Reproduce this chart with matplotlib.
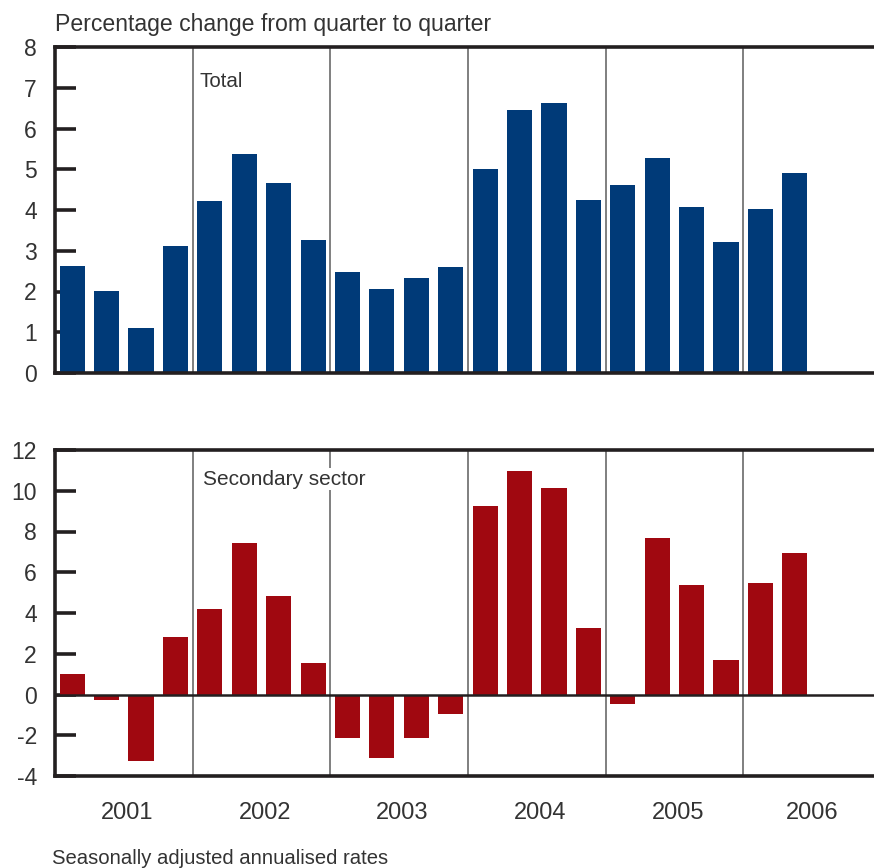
import numpy as np
import matplotlib
matplotlib.use("Agg")
import matplotlib.pyplot as plt

plt.rcParams["font.family"] = ["Liberation Sans", "DejaVu Sans"]

years = ["2001", "2002", "2003", "2004", "2005", "2006"]

# quarterly values, 2001Q1 .. 2006Q2
total = [2.63, 2.01, 1.10, 3.12,
         4.22, 5.37, 4.66, 3.26,
         2.48, 2.06, 2.33, 2.60,
         5.00, 6.45, 6.63, 4.25,
         4.61, 5.28, 4.07, 3.21,
         4.02, 4.91]

secondary = [0.99, -0.25, -3.26, 2.81,
             4.20, 7.46, 4.84, 1.53,
             -2.12, -3.11, -2.12, -0.94,
             9.23, 10.96, 10.12, 3.26,
             -0.49, 7.70, 5.38, 1.68,
             5.48, 6.96]

blue = "#003a78"
red = "#a00810"
txt = "#333333"
dark = "#231f20"
grey = "#6a6a6a"

xmax = 23.8
x = np.arange(len(total)) + 0.5

fig = plt.figure(figsize=(8.74, 8.68), dpi=100)
ax1 = fig.add_axes([55 / 874, 1 - 373 / 868, 1 - 55 / 874, 326 / 868])
ax2 = fig.add_axes([55 / 874, 1 - 776 / 868, 1 - 55 / 874, 326 / 868])


def style(ax, ylo, yhi, step):
    ax.set_xlim(0, xmax)
    ax.set_ylim(ylo, yhi)
    ax.set_yticks(np.arange(ylo, yhi + 0.1, step))
    ax.set_xticks([])
    for s in ["left", "top", "bottom"]:
        ax.spines[s].set_linewidth(2.6)
        ax.spines[s].set_color(dark)
    ax.spines["right"].set_visible(False)
    ax.tick_params(axis="y", direction="in", length=15, width=2.6,
                   color=dark, labelsize=16.5, labelcolor=txt, pad=13)
    for k in range(4, len(total), 4):
        ax.axvline(k, color=grey, lw=1.2, zorder=1)


style(ax1, 0, 8, 1)
ax1.bar(x, total, width=0.73, color=blue, zorder=2)
ax1.text(4.2, 7.15, "Total", fontsize=14.8, color=txt, va="center", ha="left")

style(ax2, -4, 12, 2)
ax2.set_yticklabels([str(int(v)) for v in np.arange(-4, 13, 2)])
ax2.bar(x, secondary, width=0.73, color=red, zorder=2)
ax2.axhline(0, color=dark, lw=1.8, zorder=3)
ax2.text(4.3, 10.57, "Secondary sector", fontsize=15, color=txt,
         va="center", ha="left", zorder=4,
         bbox=dict(facecolor="white", edgecolor="none", pad=1))

for i, yr in enumerate(years):
    lo = i * 4
    hi = min(lo + 4, xmax)
    ax2.text((lo + hi) / 2 + 0.1, -5.8, yr, fontsize=17, color=txt,
             ha="center", va="center")

fig.text(55 / 874, 1 - 24 / 868, "Percentage change from quarter to quarter",
         fontsize=16.6, color=txt, ha="left", va="center")
fig.text(52 / 874, 1 - 858 / 868, "Seasonally adjusted annualised rates",
         fontsize=14.6, color=txt, ha="left", va="center")

fig.savefig("out.png", dpi=100)
